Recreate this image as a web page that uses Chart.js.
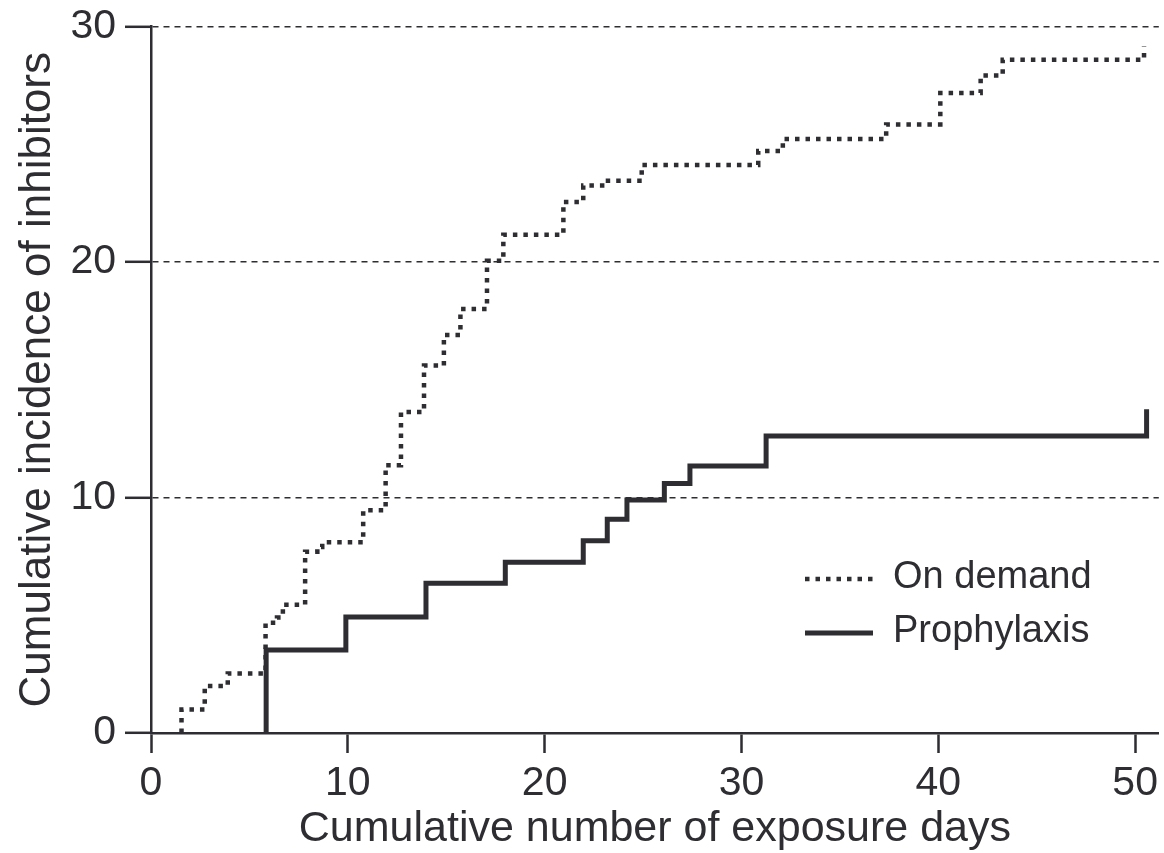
<!DOCTYPE html>
<html><head><meta charset="utf-8">
<script src="https://cdn.jsdelivr.net/npm/chart.js@4/dist/chart.umd.min.js"></script>
<style>html,body{margin:0;padding:0;background:#fff;}#wrap{width:1164px;height:853px;}</style>
</head><body><div id="wrap"><canvas id="c" width="1164" height="853"></canvas></div>
<script>
// Cumulative number of exposure days (x) at which the cumulative incidence steps to the value (y)
const onDemandDays = [1.55, 1.55, 2.73, 3.9, 5.82, 6.4, 6.7, 7.83, 8.45, 8.7, 10.78, 11.92, 12.7, 13.87, 14.88, 15.72, 17.07, 17.9, 20.95, 21.96, 23.06, 24.93, 30.85, 32.1, 37.35, 40.1, 42.15, 43.27, 50.45];
const onDemandIncidence = [0, 1.0, 2.0, 2.53, 4.68, 4.9, 5.45, 7.7, 7.9, 8.1, 9.46, 11.37, 13.63, 15.6, 16.9, 18.0, 20.05, 21.15, 22.55, 23.25, 23.45, 24.12, 24.71, 25.22, 25.84, 27.17, 27.92, 28.58, 29.15];
const prophylaxisDays = [5.85, 5.85, 9.9, 13.97, 18.0, 21.96, 23.18, 24.18, 26.08, 27.38, 31.25, 50.58];
const prophylaxisIncidence = [0, 3.52, 4.93, 6.36, 7.25, 8.16, 9.08, 9.89, 10.59, 11.34, 12.61, 13.75];
const seriesNames = ['On demand', 'Prophylaxis'];
const xTickStep = 10;
const yTickValues = [0, 10, 20, 30];
const xTitle = 'Cumulative number of exposure days';
const yTitle = 'Cumulative incidence of inhibitors';

const ink = '#2d2d32';
Chart.defaults.font.family = "'Liberation Sans', Arial, Helvetica, sans-serif";
Chart.defaults.color = ink;

const toPoints = (xs, ys) => xs.map((x, i) => ({x, y: ys[i]}));

const insideLegend = {
  id: 'insideLegend',
  afterDatasetsDraw(chart, args, opts) {
    const ctx = chart.ctx;
    ctx.save();
    chart.data.datasets.forEach((ds, i) => {
      const y = opts.rows[i];
      ctx.beginPath();
      ctx.setLineDash(ds.borderDash || []);
      ctx.lineCap = 'butt';
      ctx.lineWidth = ds.borderWidth;
      ctx.strokeStyle = ds.borderColor;
      ctx.moveTo(opts.x0, y + opts.lineOffset);
      ctx.lineTo(opts.x1, y + opts.lineOffset);
      ctx.stroke();
      ctx.setLineDash([]);
      ctx.fillStyle = ink;
      ctx.font = opts.fontSize + "px 'Liberation Sans', Arial, sans-serif";
      ctx.textBaseline = 'middle';
      ctx.textAlign = 'left';
      ctx.fillText(ds.label, opts.textX, y);
    });
    ctx.restore();
  }
};

new Chart(document.getElementById('c'), {
  type: 'line',
  data: {
    datasets: [
      {
        label: seriesNames[0],
        data: toPoints(onDemandDays, onDemandIncidence),
        stepped: 'before',
        borderColor: ink,
        borderWidth: 4.5,
        borderDash: [4.5, 6],
        borderCapStyle: 'butt',
        pointRadius: 0,
        fill: false
      },
      {
        label: seriesNames[1],
        data: toPoints(prophylaxisDays, prophylaxisIncidence),
        stepped: 'before',
        borderColor: ink,
        borderWidth: 5,
        borderCapStyle: 'butt',
        borderJoinStyle: 'miter',
        pointRadius: 0,
        fill: false
      }
    ]
  },
  options: {
    responsive: false,
    animation: false,
    layout: {padding: {left: 0, right: 1, top: 0, bottom: 0}},
    plugins: {
      legend: {display: false},
      tooltip: {enabled: false},
      insideLegend: {x0: 805, x1: 873, textX: 893, rows: [578, 632], lineOffset: 1, fontSize: 38}
    },
    scales: {
      x: {
        type: 'linear',
        min: 0,
        max: 51.2,
        ticks: {stepSize: xTickStep, includeBounds: false, font: {size: 41}, padding: 6, maxRotation: 0, color: ink},
        grid: {drawOnChartArea: false, drawTicks: true, tickLength: 20, tickWidth: 2.5, tickColor: ink, color: ink},
        border: {color: ink, width: 2.5},
        title: {display: true, text: xTitle, font: {size: 43}, color: ink, padding: {top: 0, bottom: -2}},
        afterFit(s) { s.height = 120; }
      },
      y: {
        type: 'linear',
        min: 0,
        max: 30,
        afterBuildTicks(s) { s.ticks = yTickValues.map(v => ({value: v})); },
        ticks: {font: {size: 41, lineHeight: 0.85}, padding: 9, color: ink},
        grid: {color: ink, lineWidth: 1.6, tickLength: 26, tickWidth: 2.5, tickColor: ink},
        border: {color: ink, width: 2.5, dash: [6, 5]},
        title: {display: true, text: yTitle, font: {size: 44}, color: ink, padding: {top: 11, bottom: 0}},
        afterFit(s) { s.width = 151; }
      }
    }
  },
  plugins: [insideLegend]
});
</script></body></html>
